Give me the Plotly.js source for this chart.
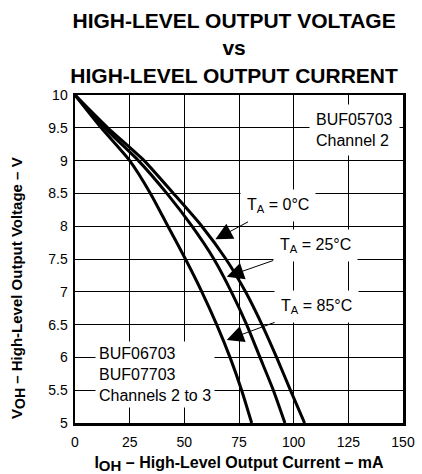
<!DOCTYPE html>
<html>
<head>
<meta charset="utf-8">
<script src="https://cdn.plot.ly/plotly-3.0.1.min.js"></script>
<style>html,body{margin:0;padding:0;background:#fff;}#chart{width:422px;height:474px;}</style>
</head>
<body>
<div id="chart"></div>
<script>
// Output voltage levels (V)
const voh = [10, 9.5, 9, 8.5, 8, 7.5, 7, 6.5, 6, 5.5, 5];
// Output current (mA) for each temperature at the voltages above
const ioh_0C  = [0, 15, 31.6, 45, 58, 69, 78, 85.5, 92.2, 98.5, 105];
const ioh_25C = [0, 13.5, 29, 42, 53.5, 63.5, 71.5, 78.5, 84.6, 90.7, 96];
const ioh_85C = [0, 12, 25, 34.5, 42.5, 50.5, 58, 64.8, 70.9, 76.2, 80.8];
const xTicks = [0, 25, 50, 75, 100, 125, 150];
const yTicks = [5, 5.5, 6, 6.5, 7, 7.5, 8, 8.5, 9, 9.5, 10];

const FONT = "Liberation Sans, Arial, Helvetica, sans-serif";
const line = {color: "#000", width: 3, shape: "spline", smoothing: 0.6};

const traces = [
  {x: ioh_0C, y: voh, name: "TA = 0°C", mode: "lines", line: line},
  {x: ioh_25C, y: voh, name: "TA = 25°C", mode: "lines", line: line},
  {x: ioh_85C, y: voh, name: "TA = 85°C", mode: "lines", line: line}
];

const lab = {font: {family: FONT, size: 16, color: "#000"}, bgcolor: "#fff", borderpad: 6};
const arrow = {showarrow: true, arrowhead: 2, arrowsize: 3.4, arrowwidth: 1, arrowcolor: "#000", axref: "x", ayref: "y"};

const layout = {
  width: 422, height: 474,
  margin: {l: 75, r: 19, t: 95, b: 51},
  paper_bgcolor: "#fff", plot_bgcolor: "#fff",
  showlegend: false,
  font: {family: FONT, size: 14, color: "#000"},
  title: {
    text: "HIGH-LEVEL OUTPUT VOLTAGE<br>vs<br>HIGH-LEVEL OUTPUT CURRENT",
    font: {family: FONT, size: 21, weight: "bold", color: "#000"},
    xref: "paper", x: 0.485, xanchor: "center",
    yref: "container", y: 1 - 28 / 474, yanchor: "top"
  },
  xaxis: {
    range: [0, 150], tickvals: xTicks, ticktext: xTicks.map(String),
    showgrid: true, gridcolor: "#000", gridwidth: 1,
    showline: true, linecolor: "#000", linewidth: 2.5, mirror: true,
    zeroline: false, ticks: "", ticklabelstandoff: 5,
    tickfont: {family: FONT, size: 14, color: "#000"},
    title: {text: "I<sub><span style=\"font-size:15px\">OH</span></sub> – High-Level Output Current – mA", font: {family: FONT, size: 16, weight: "bold", color: "#000"}, standoff: 8}
  },
  yaxis: {
    range: [5, 10], tickvals: yTicks, ticktext: yTicks.map(String),
    showgrid: true, gridcolor: "#000", gridwidth: 1,
    showline: true, linecolor: "#000", linewidth: 2.5, mirror: true,
    zeroline: false, ticks: "", ticklabelstandoff: 2,
    tickfont: {family: FONT, size: 14, color: "#000"},
    title: {text: "V<sub><span style=\"font-size:14px\">OH</span></sub> – High-Level Output Voltage – V" + "&nbsp;".repeat(14), font: {family: FONT, size: 15, weight: "bold", color: "#000"}, standoff: 22}
  },
  annotations: [
    Object.assign({x: 107, y: 9.474, xref: "x", yref: "y", xanchor: "left", align: "left", showarrow: false,
      text: "BUF05703<br>Channel 2"}, lab),
    Object.assign({x: 9.3, y: 5.736, xref: "x", yref: "y", xanchor: "left", align: "left", showarrow: false,
      text: "BUF06703<br>BUF07703<br>Channels 2 to 3"}, lab, {borderpad: 3}),
    Object.assign({x: 64.2, y: 7.8, ax: 92.8, ay: 8.31, xref: "x", yref: "y", text: "T<sub>A</sub> = 0°C"}, lab, arrow),
    Object.assign({x: 69.4, y: 7.23, ax: 109.8, ay: 7.70, xref: "x", yref: "y", text: "T<sub>A</sub> = 25°C"}, lab, arrow),
    Object.assign({x: 69.4, y: 6.265, ax: 110.5, ay: 6.77, xref: "x", yref: "y", text: "T<sub>A</sub> = 85°C"}, lab, arrow)
  ]
};

Plotly.newPlot("chart", traces, layout, {displayModeBar: false, staticPlot: true});
</script>
</body>
</html>
